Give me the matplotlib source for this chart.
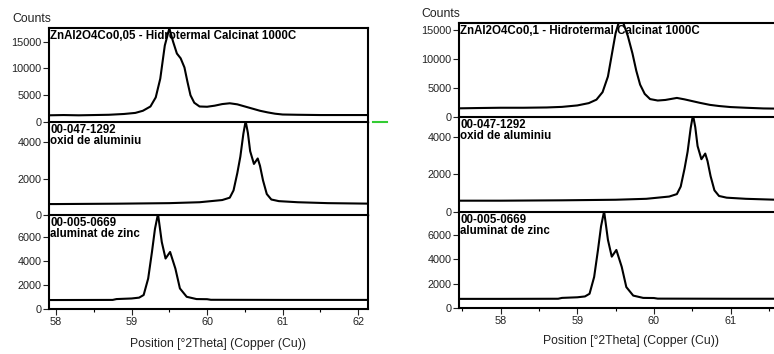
import matplotlib.pyplot as plt
from matplotlib.lines import Line2D

# ---------- DATA ----------
# measured scan, ZnAl2O4Co0,05
theta_co005 = [57.90, 58.10, 58.30, 58.50, 58.70, 58.90, 59.05, 59.15, 59.25, 59.32,
               59.38, 59.44, 59.50, 59.55, 59.60, 59.65, 59.70, 59.74, 59.78, 59.83,
               59.90, 60.00, 60.10, 60.20, 60.30, 60.40, 60.50, 60.60, 60.70, 60.80,
               60.90, 61.00, 61.20, 61.50, 61.80, 62.13]
counts_co005 = [1250, 1300, 1250, 1300, 1350, 1500, 1700, 2100, 2900, 4600,
                8100, 14300, 17500, 15000, 12800, 11900, 10200, 7500, 5000, 3600,
                2900, 2850, 3050, 3350, 3500, 3300, 2900, 2500, 2100, 1800,
                1550, 1400, 1350, 1300, 1300, 1300]

# measured scan, ZnAl2O4Co0,1
theta_co01 = [57.46, 57.70, 58.00, 58.30, 58.60, 58.80, 59.00, 59.15, 59.25, 59.33,
              59.40, 59.46, 59.50, 59.54, 59.60, 59.66, 59.72, 59.77, 59.82, 59.88,
              59.95, 60.05, 60.15, 60.30, 60.40, 60.50, 60.60, 60.73, 60.85, 61.00,
              61.20, 61.43, 61.60, 61.91]
counts_co01 = [1500, 1550, 1600, 1600, 1650, 1750, 2000, 2400, 3000, 4300,
               7000, 11500, 14500, 16300, 16300, 14000, 11000, 8000, 5600, 4000,
               3100, 2850, 2950, 3300, 3050, 2750, 2450, 2100, 1900, 1720,
               1600, 1480, 1450, 1400]

# reference card 00-047-1292 (oxid de aluminiu)
theta_ref_al = [57.40, 58.00, 58.80, 59.50, 59.90, 60.20, 60.30, 60.35, 60.40, 60.44,
                60.48, 60.51, 60.54, 60.57, 60.62, 60.67, 60.70, 60.74, 60.79, 60.85,
                60.95, 61.20, 61.60, 62.20]
counts_ref_al = [600, 600, 620, 650, 700, 820, 950, 1350, 2300, 3200,
                 4450, 5150, 4500, 3500, 2800, 3100, 2700, 1900, 1150, 850,
                 760, 700, 650, 620]

# reference card 00-005-0669 (aluminat de zinc)
theta_ref_zn = [57.40, 58.00, 58.75, 58.80, 59.00, 59.10, 59.16, 59.22, 59.27, 59.31,
                59.35, 59.40, 59.45, 59.51, 59.58, 59.64, 59.73, 59.86, 60.00, 60.05,
                61.00, 62.20]
counts_ref_zn = [750, 750, 760, 830, 880, 950, 1170, 2550, 4770, 6710,
                 7950, 5600, 4220, 4770, 3380, 1720, 1020, 830, 820, 770,
                 760, 760]

# ---------- LAYOUT (pixels) ----------
W, H = 774, 354
FONT = "Liberation Sans"
plt.rcParams["font.family"] = [FONT, "DejaVu Sans"]

fig = plt.figure(figsize=(W / 100, H / 100), dpi=100)


def add_ax(x0, x1, ytop, ybot):
    return fig.add_axes([x0 / W, 1 - ybot / H, (x1 - x0) / W, (ybot - ytop) / H])


def style_ax(ax, xlim, ylim, yticks, last):
    ax.set_yticks(yticks)
    ax.set_yticklabels([str(t) for t in yticks])
    ax.tick_params(axis="y", direction="out", length=4, width=0.8, pad=1.5,
                   labelsize=7.8, colors="#222222")
    for s in ("left", "right", "top"):
        ax.spines[s].set_linewidth(1.5)
        ax.spines[s].set_color("black")
    if last:
        ax.spines["bottom"].set_linewidth(1.5)
        ax.set_xticks([58, 59, 60, 61, 62])
        ax.set_xticks([57.5, 58.5, 59.5, 60.5, 61.5], minor=True)
        ax.tick_params(axis="x", which="major", direction="out", length=4,
                       width=0.8, labelsize=7.8, colors="#222222", pad=2)
        ax.tick_params(axis="x", which="minor", direction="out", length=2, width=0.8)
    else:
        ax.spines["bottom"].set_linewidth(1.0)
        ax.spines["bottom"].set_color("#555555")
        ax.set_xticks([])
        ax.tick_params(axis="x", which="both", length=0)
    # limits last, so the tick lists don't widen the view
    ax.set_xlim(*xlim)
    ax.set_ylim(0, ylim)


def label(ax, text, frac_down):
    ax.text(0.004, 1 - frac_down, text, transform=ax.transAxes, ha="left", va="top",
            fontsize=8.3, fontweight="bold", linespacing=0.95, zorder=1)


def draw_panel(x0, x1, rows, xlim, ylims, scan_x, scan_y, title):
    axes = [add_ax(x0, x1, t, b) for t, b in rows]
    data = [(scan_x, scan_y), (theta_ref_al, counts_ref_al), (theta_ref_zn, counts_ref_zn)]
    yticks = [[0, 5000, 10000, 15000], [0, 2000, 4000], [0, 2000, 4000, 6000]]
    for i, ax in enumerate(axes):
        ax.plot(data[i][0], data[i][1], color="black", lw=1.5, zorder=3)
        style_ax(ax, xlim, ylims[i], [t for t in yticks[i] if t < ylims[i]], i == 2)
    label(axes[0], title, 0.02)
    label(axes[1], "00-047-1292\noxid de aluminiu", 0.02)
    label(axes[2], "00-005-0669\naluminat de zinc", 0.02)
    return axes


left = draw_panel(49, 368, [(28, 122), (122, 215), (215, 309)], (57.907, 62.13),
                  [17570, 5100, 7860], theta_co005, counts_co005,
                  "ZnAl2O4Co0,05 - Hidrotermal Calcinat 1000C")
right = draw_panel(459, 800, [(23, 117), (117, 212), (212, 308)], (57.456, 61.907),
                   [16260, 5040, 7890], theta_co01, counts_co01,
                   "ZnAl2O4Co0,1 - Hidrotermal Calcinat 1000C")

# axis captions
fig.text(12 / W, 1 - 19 / H, "Counts", ha="left", va="center", fontsize=8.8, color="#222222")
fig.text(421 / W, 1 - 14 / H, "Counts", ha="left", va="center", fontsize=8.8, color="#222222")
fig.text(218 / W, 1 - 344 / H, "Position [\u00b02Theta] (Copper (Cu))", ha="center",
         va="center", fontsize=8.8, color="#222222")
fig.text(631 / W, 1 - 341 / H, "Position [\u00b02Theta] (Copper (Cu))", ha="center",
         va="center", fontsize=8.8, color="#222222")

# green splitter marker between the two panels
fig.add_artist(Line2D([373 / W, 387 / W], [1 - 122 / H, 1 - 122 / H],
                      transform=fig.transFigure, color="#33cc33", lw=1.5))

fig.savefig("out.png", dpi=100, facecolor="white")
